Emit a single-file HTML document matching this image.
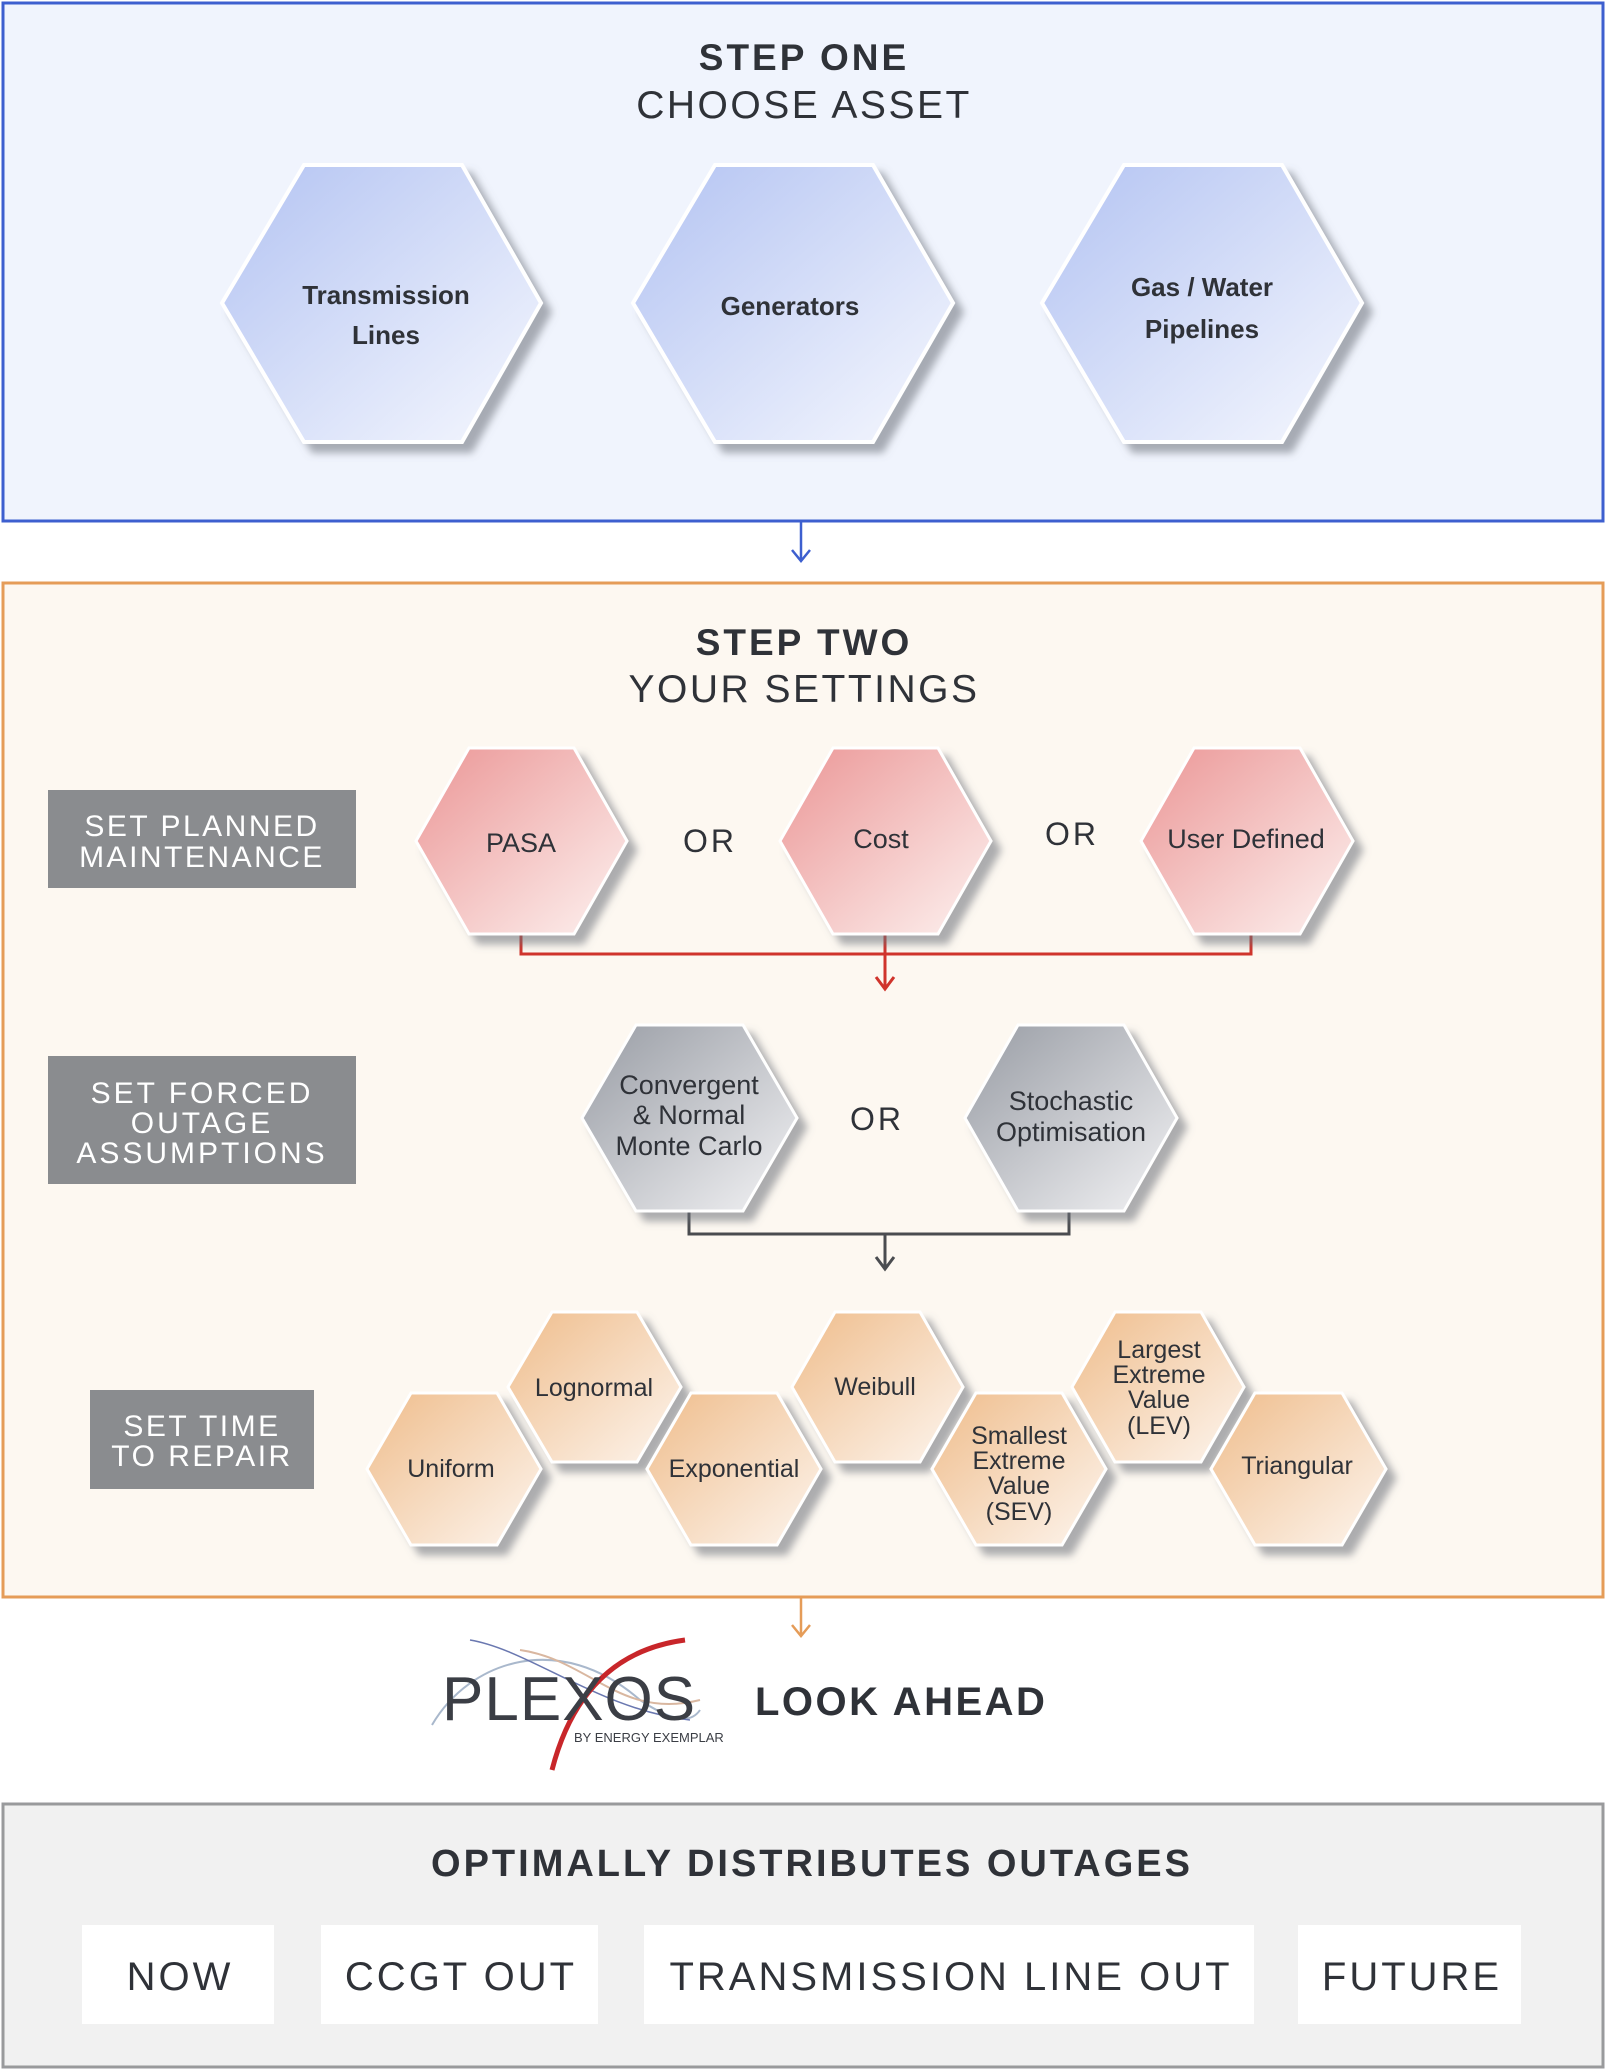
<!DOCTYPE html>
<html><head><meta charset="utf-8"><style>
html,body{margin:0;padding:0;background:#fff}
svg{display:block}
text{font-family:"Liberation Sans",sans-serif;fill:#2f3238}
</style></head><body>
<svg width="1606" height="2070" viewBox="0 0 1606 2070" xmlns="http://www.w3.org/2000/svg">
<defs>
<linearGradient id="gb" x1="0" y1="0" x2="1" y2="1"><stop offset="0" stop-color="#b3c3f2"/><stop offset="1" stop-color="#f6f8fe"/></linearGradient>
<linearGradient id="gp" x1="0" y1="0" x2="1" y2="1"><stop offset="0" stop-color="#eb9696"/><stop offset="1" stop-color="#fdf2f0"/></linearGradient>
<linearGradient id="gg" x1="0" y1="0" x2="1" y2="1"><stop offset="0" stop-color="#989ca4"/><stop offset="1" stop-color="#f3f3f5"/></linearGradient>
<linearGradient id="go" x1="0" y1="0" x2="1" y2="1"><stop offset="0" stop-color="#efbd8c"/><stop offset="1" stop-color="#fdf5ee"/></linearGradient>
<filter id="sh" x="-20%" y="-20%" width="150%" height="150%"><feDropShadow dx="9" dy="9" stdDeviation="4" flood-color="#6a6e78" flood-opacity="0.55"/></filter>
</defs>

<rect x="3" y="3" width="1600" height="518" fill="#f0f4fd" stroke="#3d5fcf" stroke-width="3"/>
<text x="804" y="70" text-anchor="middle" font-size="37" font-weight="bold" letter-spacing="3">STEP ONE</text>
<text x="804" y="118" text-anchor="middle" font-size="39" letter-spacing="2.5">CHOOSE ASSET</text>
<g filter="url(#sh)" stroke="#fff" stroke-width="4" fill="url(#gb)">
<polygon points="222,303 304,165 462,165 541,303 462,442 304,442"/>
<polygon points="633,303 715,165 873,165 953,303 873,442 715,442"/>
<polygon points="1042,303 1124,165 1282,165 1362,303 1282,442 1124,442"/>
</g>
<g font-size="26" font-weight="bold" text-anchor="middle">
<text x="386" y="304">Transmission</text><text x="386" y="344">Lines</text>
<text x="790" y="315">Generators</text>
<text x="1202" y="296">Gas / Water</text><text x="1202" y="338">Pipelines</text>
</g>
<line x1="801" y1="522" x2="801" y2="560" stroke="#3d5fcf" stroke-width="2.5"/>
<polyline points="792,550 801,561 810,550" fill="none" stroke="#3d5fcf" stroke-width="2.5"/>

<rect x="3" y="583" width="1600" height="1014" fill="#fdf8f1" stroke="#e59c58" stroke-width="3"/>
<text x="804" y="655" text-anchor="middle" font-size="37" font-weight="bold" letter-spacing="3">STEP TWO</text>
<text x="804" y="702" text-anchor="middle" font-size="39" letter-spacing="2.5">YOUR SETTINGS</text>

<rect x="48" y="790" width="308" height="98" fill="#8a8c8f"/>
<text x="202" y="836" text-anchor="middle" font-size="30" style="fill:#fff" letter-spacing="2.5">SET PLANNED</text>
<text x="202" y="867" text-anchor="middle" font-size="30" style="fill:#fff" letter-spacing="2.5">MAINTENANCE</text>
<rect x="48" y="1056" width="308" height="128" fill="#8a8c8f"/>
<text x="202" y="1103" text-anchor="middle" font-size="30" style="fill:#fff" letter-spacing="3">SET FORCED</text>
<text x="202" y="1133" text-anchor="middle" font-size="30" style="fill:#fff" letter-spacing="3">OUTAGE</text>
<text x="202" y="1163" text-anchor="middle" font-size="30" style="fill:#fff" letter-spacing="3">ASSUMPTIONS</text>
<rect x="90" y="1390" width="224" height="99" fill="#8a8c8f"/>
<text x="202" y="1436" text-anchor="middle" font-size="30" style="fill:#fff" letter-spacing="2.5">SET TIME</text>
<text x="202" y="1466" text-anchor="middle" font-size="30" style="fill:#fff" letter-spacing="2.5">TO REPAIR</text>

<g stroke="#d0342c" stroke-width="3" fill="none">
<polyline points="521,934 521,954 1251,954 1251,934"/>
<line x1="885" y1="934" x2="885" y2="988"/>
<polyline points="876,977 885,989 894,977"/>
</g>
<g stroke="#4a4c50" stroke-width="3" fill="none">
<polyline points="689,1211 689,1234 1069,1234 1069,1211"/>
<line x1="885" y1="1234" x2="885" y2="1268"/>
<polyline points="876,1257 885,1269 894,1257"/>
</g>

<g filter="url(#sh)" stroke="#fff" stroke-width="3" fill="url(#gp)">
<polygon points="416,841 469,748 574,748 627,841 574,934 469,934"/>
<polygon points="780,841 833,748 938,748 991,841 938,934 833,934"/>
<polygon points="1141,841 1194,748 1300,748 1353,841 1300,934 1194,934"/>
</g>
<g filter="url(#sh)" stroke="#fff" stroke-width="3" fill="url(#gg)">
<polygon points="582,1118 636,1025 743,1025 797,1118 743,1211 636,1211"/>
<polygon points="965,1118 1018,1025 1124,1025 1177,1118 1124,1211 1018,1211"/>
</g>
<g filter="url(#sh)" stroke="#fff" stroke-width="3" fill="url(#go)">
<polygon points="367,1469 411,1393 497,1393 541,1469 497,1545 411,1545"/>
<polygon points="508,1387 552,1312 637,1312 681,1387 637,1462 552,1462"/>
<polygon points="647,1469 691,1393 777,1393 821,1469 777,1545 691,1545"/>
<polygon points="792,1387 835,1312 920,1312 963,1387 920,1462 835,1462"/>
<polygon points="932,1469 976,1393 1062,1393 1106,1469 1062,1545 976,1545"/>
<polygon points="1072,1387 1115,1312 1201,1312 1244,1387 1201,1462 1115,1462"/>
<polygon points="1211,1469 1255,1393 1342,1393 1386,1469 1342,1545 1255,1545"/>
</g>
<g font-size="27" text-anchor="middle">
<text x="521" y="852">PASA</text>
<text x="710" y="852" font-size="32" letter-spacing="3">OR</text>
<text x="881" y="848">Cost</text>
<text x="1072" y="845" font-size="32" letter-spacing="3">OR</text>
<text x="1246" y="848">User Defined</text>
<text x="689" y="1094">Convergent</text><text x="689" y="1124">&amp; Normal</text><text x="689" y="1155">Monte Carlo</text>
<text x="877" y="1130" font-size="32" letter-spacing="3">OR</text>
<text x="1071" y="1110">Stochastic</text><text x="1071" y="1141">Optimisation</text>
</g>
<g font-size="25" text-anchor="middle">
<text x="451" y="1477">Uniform</text>
<text x="594" y="1396">Lognormal</text>
<text x="734" y="1477">Exponential</text>
<text x="875" y="1395">Weibull</text>
<text x="1019" y="1444">Smallest</text><text x="1019" y="1469">Extreme</text><text x="1019" y="1494">Value</text><text x="1019" y="1520">(SEV)</text>
<text x="1159" y="1358">Largest</text><text x="1159" y="1383">Extreme</text><text x="1159" y="1408">Value</text><text x="1159" y="1434">(LEV)</text>
<text x="1297" y="1474">Triangular</text>
</g>
<line x1="801" y1="1598" x2="801" y2="1635" stroke="#e59c58" stroke-width="2.5"/>
<polyline points="792,1625 801,1636 810,1625" fill="none" stroke="#e59c58" stroke-width="2.5"/>

<path d="M432,1725 C470,1660 560,1630 640,1700 C670,1720 690,1725 700,1710" fill="none" stroke="#a9b8cc" stroke-width="2"/>
<path d="M520,1650 C590,1660 620,1720 700,1700" fill="none" stroke="#d9b7a0" stroke-width="2"/>
<path d="M470,1640 C530,1650 600,1710 690,1720" fill="none" stroke="#6a78b0" stroke-width="1.5"/>
<path d="M552,1770 C570,1700 610,1650 685,1640" fill="none" stroke="#c8262a" stroke-width="5"/>
<text x="442" y="1720" font-size="62" style="fill:#3b3e45" letter-spacing="1">PLEXOS</text>
<text x="574" y="1742" font-size="13" style="fill:#3b3e45">BY ENERGY EXEMPLAR</text>
<text x="755" y="1715" font-size="40" font-weight="bold" letter-spacing="2.5">LOOK AHEAD</text>

<rect x="3" y="1804" width="1600" height="263" fill="#f1f1f1" stroke="#999a9c" stroke-width="3"/>
<text x="812" y="1876" text-anchor="middle" font-size="38" font-weight="bold" letter-spacing="3">OPTIMALLY DISTRIBUTES OUTAGES</text>
<rect x="82" y="1925" width="192" height="99" fill="#fff"/>
<rect x="321" y="1925" width="277" height="99" fill="#fff"/>
<rect x="644" y="1925" width="610" height="99" fill="#fff"/>
<rect x="1298" y="1925" width="223" height="99" fill="#fff"/>
<g font-size="40" text-anchor="middle" letter-spacing="3">
<text x="180" y="1990">NOW</text>
<text x="461" y="1990">CCGT OUT</text>
<text x="951" y="1990">TRANSMISSION LINE OUT</text>
<text x="1412" y="1990">FUTURE</text>
</g>
</svg>
</body></html>
